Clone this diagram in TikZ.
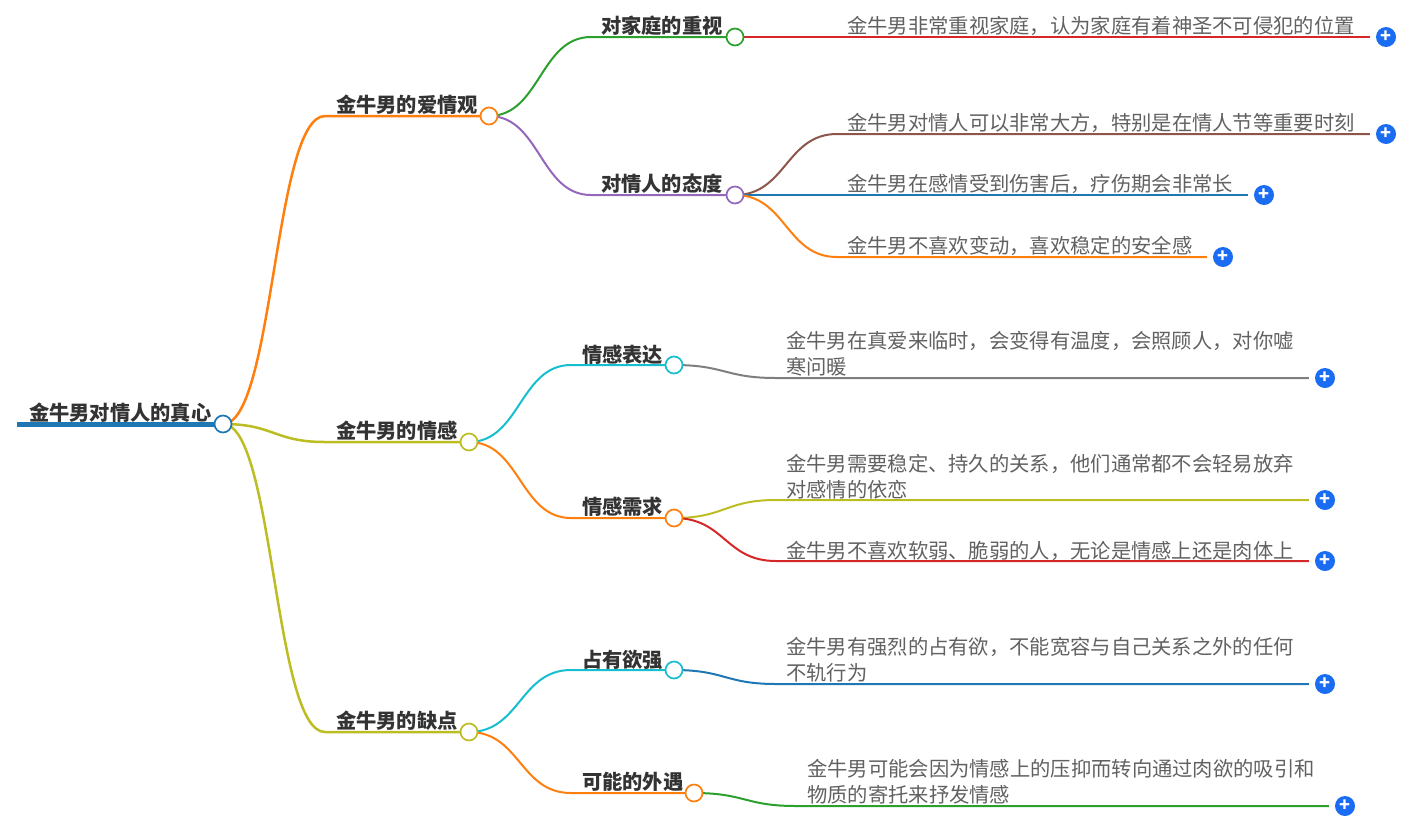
\documentclass[tikz,border=0pt]{standalone}
\usepackage{fontspec}
\setmainfont{Noto Sans CJK SC}
\usetikzlibrary{backgrounds}
\definecolor{cblue}{HTML}{1F77B4}
\definecolor{corange}{HTML}{FF7F0E}
\definecolor{colive}{HTML}{BCBD22}
\definecolor{cgreen}{HTML}{2CA02C}
\definecolor{cred}{HTML}{D62728}
\definecolor{cpurple}{HTML}{9467BD}
\definecolor{cbrown}{HTML}{8C564B}
\definecolor{cgray}{HTML}{7F7F7F}
\definecolor{cteal}{HTML}{17BECF}
\definecolor{cplus}{HTML}{1A6CF2}
\tikzset{
	dot/.style={circle,fill=white,minimum size=17pt,inner sep=0pt,line width=1.7pt},
	plusbtn/.style={circle,fill=cplus,text=white,minimum size=20pt,inner sep=0pt,font=\fontsize{18}{18}\selectfont\bfseries},
	toplabel/.style={anchor=west,inner sep=0pt,yshift=-0.5pt,text=black!80,font=\fontsize{20.25}{25}\selectfont\bfseries},
	leaflabel/.style={anchor=west,inner sep=0pt,yshift=-0.5pt,align=left,text=black!62,font=\fontsize{20.3}{25.5}\selectfont},
	link/.style={line width=2pt,shorten >=6pt},
	midlink/.style={line width=2pt},
	branch/.style={line width=2.5pt},
}
\begin{document}
\begin{tikzpicture}[x=1pt,y=-1pt]
	\useasboundingbox (0,0) rectangle (1412,828);
	% first and second level
	\coordinate (rootstart) at (17,424);
	\node[dot,draw=cblue] (root) at (223,424){};
	\node[toplabel] (roottext) at (29,412){金牛男对情人的真心};
	\coordinate (e1) at (325,116);
	\node[dot,draw=corange] (d1) at (489,116){};
	\node[toplabel] (t1) at (336,104){金牛男的爱情观};
	\coordinate (e2) at (325,442);
	\node[dot,draw=colive] (d2) at (469,442){};
	\node[toplabel] (t2) at (336,430){金牛男的情感};
	\coordinate (e3) at (325,732);
	\node[dot,draw=colive] (d3) at (469,732){};
	\node[toplabel] (t3) at (336,720){金牛男的缺点};
	% third level
	\coordinate (e11) at (591,37);
	\node[dot,draw=cgreen] (d11) at (735,37){};
	\node[toplabel] (t11) at (601,25){对家庭的重视};
	\coordinate (e12) at (591,195);
	\node[dot,draw=cpurple] (d12) at (735,195){};
	\node[toplabel] (t12) at (601,183){对情人的态度};
	\coordinate (e21) at (571,365);
	\node[dot,draw=cteal] (d21) at (674,365){};
	\node[toplabel] (t21) at (582,354){情感表达};
	\coordinate (e22) at (571,518);
	\node[dot,draw=corange] (d22) at (674,518){};
	\node[toplabel] (t22) at (582,506){情感需求};
	\coordinate (e31) at (571,670);
	\node[dot,draw=cteal] (d31) at (674,670){};
	\node[toplabel] (t31) at (582,659){占有欲强};
	\coordinate (e32) at (571,793);
	\node[dot,draw=corange] (d32) at (694,793){};
	\node[toplabel] (t32) at (582,781){可能的外遇};
	% leaves
	\coordinate (e111) at (837,37);
	\node[plusbtn] (p111) at (1386,37){+};
	\node[leaflabel] (l111) at (847,25){金牛男非常重视家庭，认为家庭有着神圣不可侵犯的位置};
	\coordinate (e121) at (837,134);
	\node[plusbtn] (p121) at (1386,134){+};
	\node[leaflabel] (l121) at (847,122){金牛男对情人可以非常大方，特别是在情人节等重要时刻};
	\coordinate (e122) at (837,195);
	\node[plusbtn] (p122) at (1264,195){+};
	\node[leaflabel] (l122) at (847,183){金牛男在感情受到伤害后，疗伤期会非常长};
	\coordinate (e123) at (837,257);
	\node[plusbtn] (p123) at (1223,257){+};
	\node[leaflabel] (l123) at (847,245){金牛男不喜欢变动，喜欢稳定的安全感};
	\coordinate (e211) at (776,378);
	\node[plusbtn] (p211) at (1325,378){+};
	\node[leaflabel] (l211) at (786,353){金牛男在真爱来临时，会变得有温度，会照顾人，对你嘘\\寒问暖};
	\coordinate (e221) at (776,500);
	\node[plusbtn] (p221) at (1325,500){+};
	\node[leaflabel] (l221) at (786,476){金牛男需要稳定、持久的关系，他们通常都不会轻易放弃\\对感情的依恋};
	\coordinate (e222) at (776,561);
	\node[plusbtn] (p222) at (1325,561){+};
	\node[leaflabel] (l222) at (786,550){金牛男不喜欢软弱、脆弱的人，无论是情感上还是肉体上};
	\coordinate (e311) at (776,684);
	\node[plusbtn] (p311) at (1325,684){+};
	\node[leaflabel] (l311) at (786,659){金牛男有强烈的占有欲，不能宽容与自己关系之外的任何\\不轨行为};
	\coordinate (e321) at (796,806);
	\node[plusbtn] (p321) at (1345,806){+};
	\node[leaflabel] (l321) at (807,781){金牛男可能会因为情感上的压抑而转向通过肉欲的吸引和\\物质的寄托来抒发情感};
	\begin{scope}[on background layer]
		\draw[line width=5pt,color=cblue] (rootstart) -- (root.center);
		\draw[branch,color=corange] (root.center) .. controls +(51,0) and +(-51,0) .. (e1) -- (d1.center);
		\draw[branch,color=colive] (root.center) .. controls +(51,0) and +(-51,0) .. (e2) -- (d2.center);
		\draw[branch,color=colive] (root.center) .. controls +(51,0) and +(-51,0) .. (e3) -- (d3.center);
		\draw[midlink,color=cgreen] (d1.center) .. controls +(51,0) and +(-51,0) .. (e11) -- (d11.center);
		\draw[midlink,color=cpurple] (d1.center) .. controls +(51,0) and +(-51,0) .. (e12) -- (d12.center);
		\draw[midlink,color=cteal] (d2.center) .. controls +(51,0) and +(-51,0) .. (e21) -- (d21.center);
		\draw[midlink,color=corange] (d2.center) .. controls +(51,0) and +(-51,0) .. (e22) -- (d22.center);
		\draw[midlink,color=cteal] (d3.center) .. controls +(51,0) and +(-51,0) .. (e31) -- (d31.center);
		\draw[midlink,color=corange] (d3.center) .. controls +(51,0) and +(-51,0) .. (e32) -- (d32.center);
		\draw[link,color=cred] (d11.center) -- (e111) -- (p111.west);
		\draw[link,color=cbrown] (d12.center) .. controls +(51,0) and +(-51,0) .. (e121) -- (p121.west);
		\draw[link,color=cblue] (d12.center) -- (e122) -- (p122.west);
		\draw[link,color=corange] (d12.center) .. controls +(51,0) and +(-51,0) .. (e123) -- (p123.west);
		\draw[link,color=cgray] (d21.center) .. controls +(51,0) and +(-51,0) .. (e211) -- (p211.west);
		\draw[link,color=colive] (d22.center) .. controls +(51,0) and +(-51,0) .. (e221) -- (p221.west);
		\draw[link,color=cred] (d22.center) .. controls +(51,0) and +(-51,0) .. (e222) -- (p222.west);
		\draw[link,color=cblue] (d31.center) .. controls +(51,0) and +(-51,0) .. (e311) -- (p311.west);
		\draw[link,color=cgreen] (d32.center) .. controls +(51,0) and +(-51,0) .. (e321) -- (p321.west);
	\end{scope}
\end{tikzpicture}
\end{document}
